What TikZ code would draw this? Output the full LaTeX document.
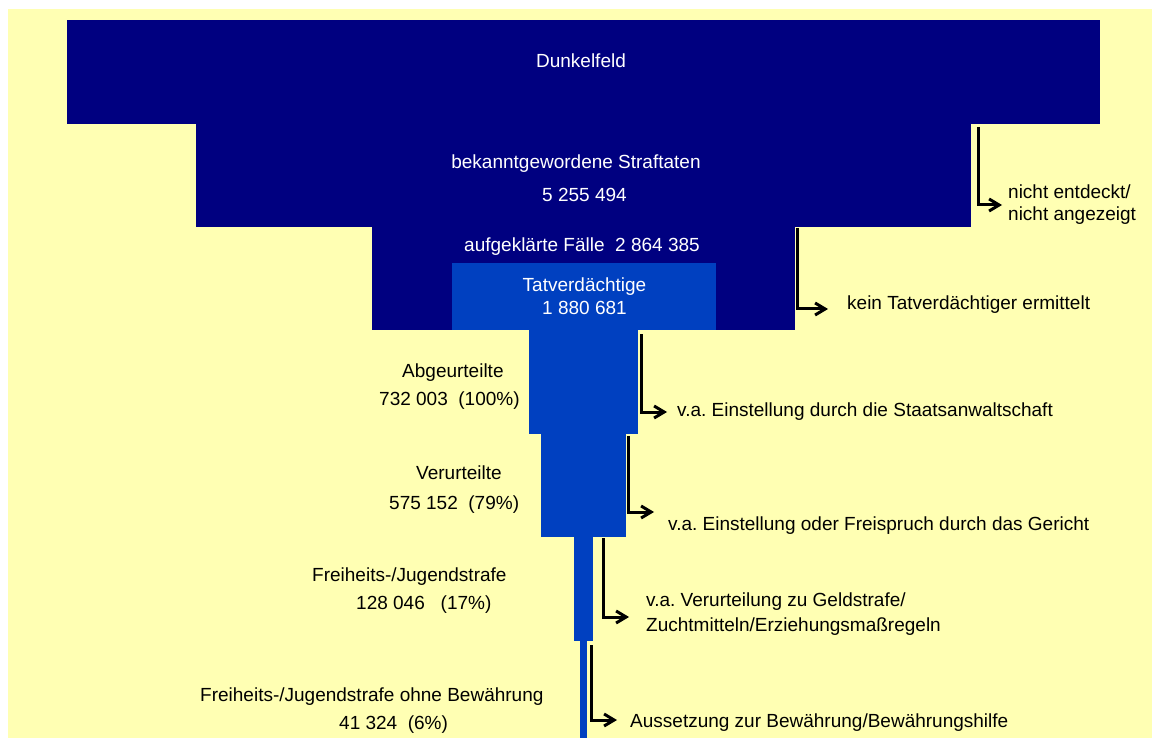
\documentclass[tikz,border=0pt]{standalone}
\usepackage{fontspec}
\setmainfont{Liberation Sans}
\usetikzlibrary{arrows.meta,calc}
\definecolor{bgyellow}{HTML}{FFFFB3}
\definecolor{navy}{HTML}{000080}
\definecolor{midblue}{HTML}{0040C0}
\frenchspacing
\begin{document}
\begin{tikzpicture}[x=1pt,y=-1pt,
  blk/.style={rectangle, draw=none, inner sep=0pt, outer sep=0pt, anchor=north west},
  darkblk/.style={blk, fill=navy},
  blueblk/.style={blk, fill=midblue},
  txt/.style={font=\fontsize{19}{22}\selectfont, inner sep=0pt, text height=13.6pt, text depth=0pt},
  wtxt/.style={txt, text=white},
  lbl/.style={txt, text=black, anchor=west},
  conn/.style={line width=3pt, -{Straight Barb[length=10pt, width=12pt]}}]
\useasboundingbox (0,0) rectangle (1152,738);
\fill[white] (0,0) rectangle (1152,738);
\fill[bgyellow] (8,9) rectangle (1152,738);
% funnel blocks
\node[darkblk, minimum width=1033pt, minimum height=104pt] (b1) at (67,20) {};
\node[darkblk, minimum width=775pt, minimum height=103pt] (b2) at (196,124) {};
\node[darkblk, minimum width=423pt, minimum height=103pt] (b3) at (372,227) {};
\node[blueblk, minimum width=264pt, minimum height=67pt] (b4) at (452,263) {};
\node[blueblk, minimum width=109pt, minimum height=104pt] (b5) at (529,330) {};
\node[blueblk, minimum width=85pt, minimum height=103pt] (b6) at (541,434) {};
\node[blueblk, minimum width=19pt, minimum height=104pt] (b7) at (574,537) {};
\node[blueblk, minimum width=7pt, minimum height=97pt] (b8) at (580,641) {};
% texts inside blocks
\node[wtxt] (t1) at (581,61) {Dunkelfeld};
\node[wtxt] (t2) at (576,162) {bekanntgewordene Straftaten};
\node[wtxt] (t3) at (584.5,195) {5 255 494};
\node[wtxt] (t4) at (582,245) {aufgeklärte Fälle\ \ 2 864 385};
\node[wtxt] (t5) at (584.5,285) {Tatverdächtige};
\node[wtxt] (t6) at (584.5,308) {1 880 681};
% left labels
\node[lbl] (l1a) at (402,371) {Abgeurteilte};
\node[lbl] (l1b) at (379,399) {732 003\ \ (100\%)};
\node[lbl] (l2a) at (416,473) {Verurteilte};
\node[lbl] (l2b) at (389,503) {575 152\ \ (79\%)};
\node[lbl] (l3a) at (312,575) {Freiheits-/Jugendstrafe};
\node[lbl] (l3b) at (356,603) {128 046\ \ \ (17\%)};
\node[lbl] (l4a) at (200,695) {Freiheits-/Jugendstrafe ohne Bewährung};
\node[lbl] (l4b) at (339,723) {41 324\ \ (6\%)};
% right labels
\node[lbl] (r1a) at (1008,192) {nicht entdeckt/};
\node[lbl] (r1b) at (1008,214) {nicht angezeigt};
\node[lbl] (r2) at (847,303) {kein Tatverdächtiger ermittelt};
\node[lbl] (r3) at (677,410) {v.a. Einstellung durch die Staatsanwaltschaft};
\node[lbl] (r4) at (668,524) {v.a. Einstellung oder Freispruch durch das Gericht};
\node[lbl] (r5a) at (646,600) {v.a. Verurteilung zu Geldstrafe/};
\node[lbl] (r5b) at (646,625) {Zuchtmitteln/Erziehungsmaßregeln};
\node[lbl] (r6) at (630,721) {Aussetzung zur Bewährung/Bewährungshilfe};
% connector ends
\coordinate (s1) at ($(b2.north east)+(7,3)$);
\coordinate (e1) at (1002,205);
\coordinate (s2) at ($(b3.north east)+(2.5,1)$);
\coordinate (e2) at (828,309);
\coordinate (s3) at ($(b5.north east)+(3.5,4)$);
\coordinate (e3) at (667,412);
\coordinate (s4) at ($(b6.north east)+(2.5,2)$);
\coordinate (e4) at (654,512);
\coordinate (s5) at ($(b7.north east)+(10.5,1)$);
\coordinate (e5) at (629,617);
\coordinate (s6) at ($(b8.north east)+(4.5,4)$);
\coordinate (e6) at (617,720);
\foreach \i in {1,...,6} {\draw[conn] (s\i) |- (e\i);}
\end{tikzpicture}
\end{document}
